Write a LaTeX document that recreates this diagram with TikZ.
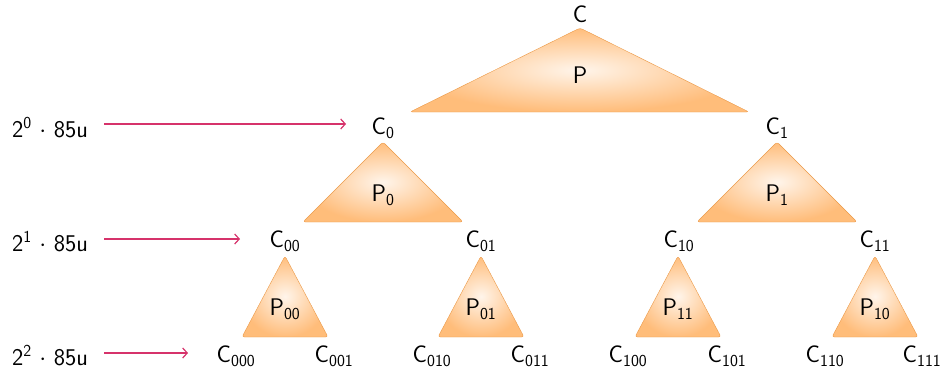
\documentclass[tikz,border=0pt]{standalone}
\usepackage{fontspec}
\usetikzlibrary{arrows.meta}
\begin{document}
\begin{tikzpicture}[x=1pt,y=-1pt,
  lbl/.style={font=\sffamily\fontsize{24}{27}\selectfont, inner sep=0pt},
  tri/.style={shading=radial, inner color=orange!8, outer color=orange!52, draw=orange!60!brown!80, line width=0.4pt, rounded corners=2.5pt},
  lvl/.style={-{Straight Barb[length=4.5pt,width=10pt,line width=1.2pt]}, draw={rgb,1:red,0.84;green,0.2;blue,0.42}, line width=1.2pt}
]
\useasboundingbox (0,0) rectangle (945,370);

% triangles
\path[tri] (580,28) -- (749,112) -- (410,112) -- cycle;
\path[tri] (383,142) -- (463,222) -- (303,222) -- cycle;
\path[tri] (777,142) -- (857,222) -- (697,222) -- cycle;
\path[tri] (285,256) -- (328,337) -- (242,337) -- cycle;
\path[tri] (481,256) -- (524,337) -- (438,337) -- cycle;
\path[tri] (678,256) -- (721,337) -- (635,337) -- cycle;
\path[tri] (875,256) -- (918,337) -- (832,337) -- cycle;

% P labels
\node[lbl] (P) at (580,75) {P};
\node[lbl] (P0) at (383,195) {P\textsubscript{0}};
\node[lbl] (P1) at (777,195) {P\textsubscript{1}};
\node[lbl] (P00) at (285,309) {P\textsubscript{00}};
\node[lbl] (P01) at (481,309) {P\textsubscript{01}};
\node[lbl] (P11) at (678,309) {P\textsubscript{11}};
\node[lbl] (P10) at (875,309) {P\textsubscript{10}};

% C labels
\node[lbl] (C) at (580,14) {C};
\node[lbl] (C0) at (383,128) {C\textsubscript{0}};
\node[lbl] (C1) at (777,128) {C\textsubscript{1}};
\node[lbl] (C00) at (285,241) {C\textsubscript{00}};
\node[lbl] (C01) at (481,241) {C\textsubscript{01}};
\node[lbl] (C10) at (679,241) {C\textsubscript{10}};
\node[lbl] (C11) at (875,241) {C\textsubscript{11}};
\node[lbl] (C000) at (236,356) {C\textsubscript{000}};
\node[lbl] (C001) at (334,356) {C\textsubscript{001}};
\node[lbl] (C010) at (432,356) {C\textsubscript{010}};
\node[lbl] (C011) at (530,356) {C\textsubscript{011}};
\node[lbl] (C100) at (628,356) {C\textsubscript{100}};
\node[lbl] (C101) at (727,356) {C\textsubscript{101}};
\node[lbl] (C110) at (825,356) {C\textsubscript{110}};
\node[lbl] (C111) at (922,356) {C\textsubscript{111}};

% level labels
\node[lbl, anchor=west] (L0) at (12,128) {2\textsuperscript{0} $\cdot$ 85u};
\node[lbl, anchor=west] (L1) at (12,242) {2\textsuperscript{1} $\cdot$ 85u};
\node[lbl, anchor=west] (L2) at (12,356) {2\textsuperscript{2} $\cdot$ 85u};

\coordinate (S0) at (104,124);
\coordinate (S1) at (104,239);
\coordinate (S2) at (104,353);
\coordinate (E0) at (346,124);
\coordinate (E1) at (240,239);
\coordinate (E2) at (188,353);
\draw[lvl] (S0) -- (E0);
\draw[lvl] (S1) -- (E1);
\draw[lvl] (S2) -- (E2);
\end{tikzpicture}
\end{document}
